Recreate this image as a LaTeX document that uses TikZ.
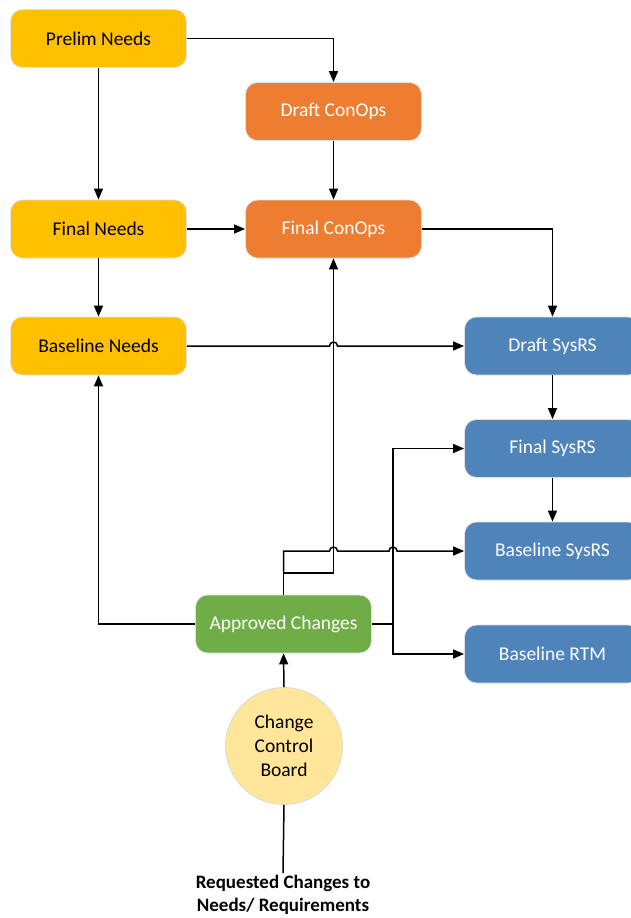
\documentclass[tikz,border=0pt]{standalone}
\usepackage{fontspec}
\setmainfont{Carlito}
\usetikzlibrary{arrows.meta}
\definecolor{needs}{HTML}{FFC000}
\definecolor{conops}{HTML}{ED7D31}
\definecolor{sysrs}{HTML}{4E84BA}
\definecolor{approved}{HTML}{70AD47}
\definecolor{ccb}{HTML}{FFE699}
\tikzset{
  box/.style={rectangle, rounded corners=12pt, minimum width=176pt, minimum height=58pt,
    draw=black!12, line width=0.8pt, font=\fontsize{19.5}{23}\selectfont, inner sep=0pt},
  needbox/.style={box, fill=needs, text=black},
  conbox/.style={box, fill=conops, text=white},
  sysbox/.style={box, fill=sysrs, text=white},
  appbox/.style={box, fill=approved, text=white},
  link/.style={line width=1.5pt, draw=black},
  arr/.style={link, -{Triangle[length=11pt,width=9pt]}}
}
\begin{document}
\begin{tikzpicture}[x=1pt,y=-1pt]
\useasboundingbox (0,0) rectangle (631,918);
\clip (0,0) rectangle (631,918);

% process boxes
\node[needbox] (prelim) at (98.5,38.5) {Prelim Needs};
\node[conbox]  (draftcon) at (333.5,111.5) {Draft ConOps};
\node[needbox] (finalneeds) at (98.5,229) {Final Needs};
\node[conbox]  (finalcon) at (333.5,229) {Final ConOps};
\node[needbox] (baseneeds) at (98.5,346) {Baseline Needs};
\node[sysbox]  (draftsys) at (552.5,346) {Draft SysRS};
\node[sysbox]  (finalsys) at (552.5,448.5) {Final SysRS};
\node[sysbox]  (basesys) at (552.5,551) {Baseline SysRS};
\node[sysbox]  (basertm) at (552.5,654) {Baseline RTM};
\node[appbox]  (approved) at (283.5,624) {Approved Changes};
\node[circle, fill=ccb, draw=black!15, line width=0.8pt, minimum size=117pt, inner sep=0pt,
      align=center, font=\fontsize{19.5}{24}\selectfont] (ccb) at (284,746) {Change\\Control\\Board};
\node[align=center, font=\bfseries\fontsize{19}{23}\selectfont, inner sep=2pt] (req) at (283,895)
  {Requested Changes to\\Needs/ Requirements};

% junction points
\coordinate (j1) at (283.5,573);
\coordinate (j2) at (283.5,551);
\coordinate (j3) at (393,624);

% needs and concept flow
\draw[arr] (prelim.east) -| (draftcon.north);
\draw[arr] (prelim.south) -- (finalneeds.north);
\draw[arr] (draftcon.south) -- (finalcon.north);
\draw[arr] (finalneeds.east) -- (finalcon.west);
\draw[arr] (finalneeds.south) -- (baseneeds.north);
\draw[arr] (finalcon.east) -| (draftsys.north);
\draw[arr] (baseneeds.east) -- (329.5,346) arc (180:360:4) -- (draftsys.west);
\draw[arr] (draftsys.south) -- (finalsys.north);
\draw[arr] (finalsys.south) -- (basesys.north);

% change control paths
\draw[arr] (approved.west) -| (baseneeds.south);
\draw[link] (approved.north) -- (j1);
\draw[arr] (j1) -| (finalcon.south);
\draw[arr] (j1) -- (j2) -- (329.5,551) arc (180:360:4) -- (389,551) arc (180:360:4) -- (basesys.west);
\draw[link] (approved.east) -- (j3);
\draw[arr] (j3) |- (finalsys.west);
\draw[arr] (j3) |- (basertm.west);
\draw[arr] (ccb.north) -- (approved.south);
\draw[link] (req.north) -- (ccb.south);
\end{tikzpicture}
\end{document}
